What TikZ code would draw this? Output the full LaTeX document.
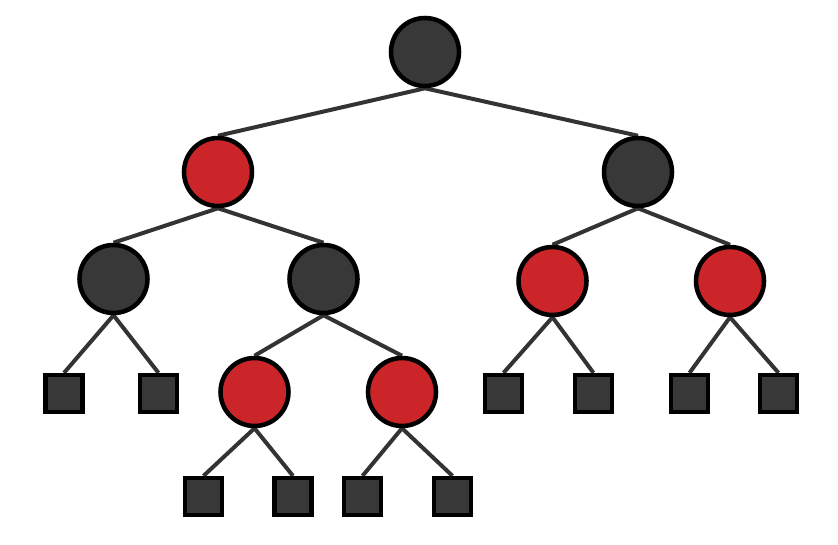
\documentclass[tikz,border=0pt]{standalone}
\usetikzlibrary{backgrounds}
\definecolor{nodogris}{HTML}{383838}
\definecolor{nodorojo}{HTML}{CC2529}
\definecolor{aristagris}{HTML}{333333}
\tikzset{
    negro/.style={circle,draw=black,line width=3.4pt,fill=nodogris,minimum size=51pt,inner sep=0pt},
    rojo/.style={circle,draw=black,line width=3.4pt,fill=nodorojo,minimum size=51pt,inner sep=0pt},
    hoja/.style={rectangle,draw=black,line width=3.4pt,fill=nodogris,minimum size=27.5pt,inner sep=0pt},
    arista/.style={aristagris,line width=3pt}
}
\begin{document}
\begin{tikzpicture}[x=.75pt,y=-.75pt]
    \useasboundingbox (0,0) rectangle (838,545);

    % Nodos internos del árbol rojo-negro.
    \node[negro] (raiz) at (425,52) {};
    \node[rojo] (a) at (218,172) {};
    \node[negro] (b) at (638,172) {};
    \node[negro] (aa) at (113.5,279) {};
    \node[negro] (ab) at (323.5,279) {};
    \node[rojo] (ba) at (552.5,281) {};
    \node[rojo] (bb) at (730,281) {};
    \node[rojo] (aba) at (254.5,392) {};
    \node[rojo] (abb) at (402,392) {};

    % Hojas (nodos nulos).
    \node[hoja] (h1) at (64,393.5) {};
    \node[hoja] (h2) at (158.5,393.5) {};
    \node[hoja] (h3) at (503.5,393.5) {};
    \node[hoja] (h4) at (593.5,393.5) {};
    \node[hoja] (h5) at (689.5,393.5) {};
    \node[hoja] (h6) at (778.5,393.5) {};
    \node[hoja] (h7) at (203.5,496.5) {};
    \node[hoja] (h8) at (293,496.5) {};
    \node[hoja] (h9) at (362.5,496.5) {};
    \node[hoja] (h10) at (452.5,496.5) {};

    % Aristas, de la base del padre a la cima del hijo.
    \begin{scope}[on background layer]
        \draw[arista] (raiz.south) -- (a.north);
        \draw[arista] (raiz.south) -- (b.north);
        \draw[arista] (a.south) -- (aa.north);
        \draw[arista] (a.south) -- (ab.north);
        \draw[arista] (b.south) -- (ba.north);
        \draw[arista] (b.south) -- (bb.north);
        \draw[arista] (aa.south) -- (h1.north);
        \draw[arista] (aa.south) -- (h2.north);
        \draw[arista] (ab.south) -- (aba.north);
        \draw[arista] (ab.south) -- (abb.north);
        \draw[arista] (ba.south) -- (h3.north);
        \draw[arista] (ba.south) -- (h4.north);
        \draw[arista] (bb.south) -- (h5.north);
        \draw[arista] (bb.south) -- (h6.north);
        \draw[arista] (aba.south) -- (h7.north);
        \draw[arista] (aba.south) -- (h8.north);
        \draw[arista] (abb.south) -- (h9.north);
        \draw[arista] (abb.south) -- (h10.north);
    \end{scope}
\end{tikzpicture}
\end{document}
